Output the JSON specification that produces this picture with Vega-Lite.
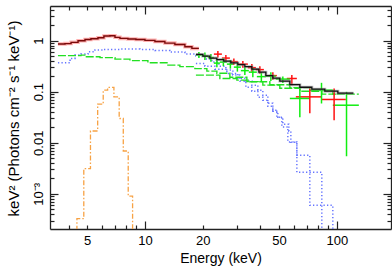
{
  "$schema": "https://vega.github.io/schema/vega-lite/v6.json",
  "width": 341,
  "height": 223,
  "autosize": {"type": "none"},
  "padding": {"left": 50, "top": 6, "right": 1, "bottom": 38},
  "config": {"view": {"stroke": null}, "font": "Liberation Sans", "axis": {"grid": false}},
  "datasets": {
    "lines": [
      {"s": "m", "e": 3.52, "f": 0.854}, {"s": "m", "e": 3.83, "f": 0.873}, {"s": "m", "e": 4.12, "f": 0.922}, {"s": "m", "e": 4.48, "f": 0.991}, {"s": "m", "e": 4.87, "f": 1.046}, {"s": "m", "e": 5.23, "f": 1.085}, {"s": "m", "e": 5.69, "f": 1.135}, {"s": "m", "e": 6.11, "f": 1.225}, {"s": "m", "e": 6.57, "f": 1.242}, {"s": "m", "e": 6.98, "f": 1.155}, {"s": "m", "e": 7.41, "f": 1.104}, {"s": "m", "e": 8.15, "f": 1.07}, {"s": "m", "e": 8.97, "f": 1.046}, {"s": "m", "e": 10.0, "f": 1.009}, {"s": "m", "e": 11.27, "f": 0.956}, {"s": "m", "e": 12.7, "f": 0.893}, {"s": "m", "e": 14.32, "f": 0.835}, {"s": "m", "e": 16.15, "f": 0.756}, {"s": "m", "e": 17.57, "f": 0.703}, {"s": "m", "e": 19.1, "f": 0.703},
      {"s": "k", "e": 18.43, "f": 0.536}, {"s": "k", "e": 20.04, "f": 0.497}, {"s": "k", "e": 21.79, "f": 0.454}, {"s": "k", "e": 23.7, "f": 0.424}, {"s": "k", "e": 25.77, "f": 0.396}, {"s": "k", "e": 28.04, "f": 0.367}, {"s": "k", "e": 30.49, "f": 0.338}, {"s": "k", "e": 33.16, "f": 0.309}, {"s": "k", "e": 36.06, "f": 0.276}, {"s": "k", "e": 39.22, "f": 0.241}, {"s": "k", "e": 42.66, "f": 0.206}, {"s": "k", "e": 46.39, "f": 0.184}, {"s": "k", "e": 50.45, "f": 0.161}, {"s": "k", "e": 56.89, "f": 0.137}, {"s": "k", "e": 64.14, "f": 0.122}, {"s": "k", "e": 74.06, "f": 0.112}, {"s": "k", "e": 86.53, "f": 0.102}, {"s": "k", "e": 101.2, "f": 0.0935}, {"s": "k", "e": 122.0, "f": 0.0935},
      {"s": "fe", "e": 4.0, "f": 0.00001}, {"s": "fe", "e": 4.42, "f": 0.000326}, {"s": "fe", "e": 4.8, "f": 0.00312}, {"s": "fe", "e": 5.2, "f": 0.017}, {"s": "fe", "e": 5.67, "f": 0.0569}, {"s": "fe", "e": 6.06, "f": 0.107}, {"s": "fe", "e": 6.39, "f": 0.121}, {"s": "fe", "e": 6.89, "f": 0.079}, {"s": "fe", "e": 7.34, "f": 0.0298}, {"s": "fe", "e": 7.71, "f": 0.0069}, {"s": "fe", "e": 8.18, "f": 0.000905}, {"s": "fe", "e": 8.62, "f": 0.00001},
      {"s": "b1", "e": 3.52, "f": 0.367}, {"s": "b1", "e": 4.07, "f": 0.448}, {"s": "b1", "e": 4.32, "f": 0.52}, {"s": "b1", "e": 4.64, "f": 0.543}, {"s": "b1", "e": 5.05, "f": 0.603}, {"s": "b1", "e": 5.49, "f": 0.651}, {"s": "b1", "e": 6.04, "f": 0.672}, {"s": "b1", "e": 7.41, "f": 0.681}, {"s": "b1", "e": 9.41, "f": 0.672}, {"s": "b1", "e": 11.27, "f": 0.642}, {"s": "b1", "e": 13.49, "f": 0.595}, {"s": "b1", "e": 16.15, "f": 0.543}, {"s": "b1", "e": 18.43, "f": 0.497}, {"s": "b1", "e": 20.53, "f": 0.434}, {"s": "b1", "e": 22.32, "f": 0.379}, {"s": "b1", "e": 24.28, "f": 0.316}, {"s": "b1", "e": 26.4, "f": 0.264}, {"s": "b1", "e": 28.72, "f": 0.211}, {"s": "b1", "e": 31.23, "f": 0.161}, {"s": "b1", "e": 33.56, "f": 0.122}, {"s": "b1", "e": 36.06, "f": 0.102}, {"s": "b1", "e": 38.76, "f": 0.078}, {"s": "b1", "e": 41.15, "f": 0.0681}, {"s": "b1", "e": 43.69, "f": 0.052}, {"s": "b1", "e": 46.39, "f": 0.0415}, {"s": "b1", "e": 49.26, "f": 0.0316}, {"s": "b1", "e": 52.3, "f": 0.023}, {"s": "b1", "e": 56.2, "f": 0.0168}, {"s": "b1", "e": 57.58, "f": 0.01023}, {"s": "b1", "e": 61.88, "f": 0.00264}, {"s": "b1", "e": 83.48, "f": 0.00001},
      {"s": "b2", "e": 18.43, "f": 0.357}, {"s": "b2", "e": 20.53, "f": 0.316}, {"s": "b2", "e": 23.14, "f": 0.276}, {"s": "b2", "e": 26.72, "f": 0.227}, {"s": "b2", "e": 30.49, "f": 0.184}, {"s": "b2", "e": 33.16, "f": 0.161}, {"s": "b2", "e": 36.06, "f": 0.134}, {"s": "b2", "e": 38.76, "f": 0.107}, {"s": "b2", "e": 41.15, "f": 0.0854}, {"s": "b2", "e": 43.69, "f": 0.0595}, {"s": "b2", "e": 46.39, "f": 0.0434}, {"s": "b2", "e": 48.67, "f": 0.0316}, {"s": "b2", "e": 51.68, "f": 0.0204}, {"s": "b2", "e": 55.53, "f": 0.01036}, {"s": "b2", "e": 61.88, "f": 0.00569}, {"s": "b2", "e": 72.3, "f": 0.000595}, {"s": "b2", "e": 95.27, "f": 0.00001},
      {"s": "g1", "e": 3.52, "f": 0.508}, {"s": "g1", "e": 4.64, "f": 0.52}, {"s": "g1", "e": 4.87, "f": 0.481}, {"s": "g1", "e": 5.83, "f": 0.464}, {"s": "g1", "e": 6.98, "f": 0.434}, {"s": "g1", "e": 8.35, "f": 0.405}, {"s": "g1", "e": 10.36, "f": 0.367}, {"s": "g1", "e": 13.17, "f": 0.331}, {"s": "g1", "e": 15.21, "f": 0.309}, {"s": "g1", "e": 18.2, "f": 0.282}, {"s": "g1", "e": 21.02, "f": 0.252}, {"s": "g1", "e": 23.7, "f": 0.23}, {"s": "g1", "e": 27.7, "f": 0.192}, {"s": "g1", "e": 33.96, "f": 0.157}, {"s": "g1", "e": 41.15, "f": 0.134}, {"s": "g1", "e": 50.45, "f": 0.117}, {"s": "g1", "e": 64.14, "f": 0.102}, {"s": "g1", "e": 83.48, "f": 0.0893}, {"s": "g1", "e": 101.2, "f": 0.0893},
      {"s": "g2", "e": 18.43, "f": 0.211}, {"s": "g2", "e": 24.57, "f": 0.181}, {"s": "g2", "e": 30.13, "f": 0.168}, {"s": "g2", "e": 35.2, "f": 0.156}, {"s": "g2", "e": 44.75, "f": 0.137}, {"s": "g2", "e": 56.89, "f": 0.12}, {"s": "g2", "e": 72.3, "f": 0.105}, {"s": "g2", "e": 95.27, "f": 0.0893}, {"s": "g2", "e": 130.2, "f": 0.0893}
    ],
    "pts": [
      {"i": "r", "e": 23.99, "elo": 22.86, "ehi": 25.17, "f": 0.543, "flo": 0.464, "fhi": 0.622},
      {"i": "r", "e": 26.4, "elo": 25.17, "ehi": 27.7, "f": 0.454, "flo": 0.396, "fhi": 0.52},
      {"i": "r", "e": 29.06, "elo": 27.7, "ehi": 30.49, "f": 0.387, "flo": 0.338, "fhi": 0.444},
      {"i": "r", "e": 32.37, "elo": 30.49, "ehi": 34.37, "f": 0.346, "flo": 0.295, "fhi": 0.396},
      {"i": "r", "e": 36.06, "elo": 34.37, "ehi": 37.84, "f": 0.295, "flo": 0.247, "fhi": 0.346},
      {"i": "r", "e": 39.7, "elo": 37.84, "ehi": 41.65, "f": 0.27, "flo": 0.225, "fhi": 0.316},
      {"i": "r", "e": 46.39, "elo": 44.22, "ehi": 48.67, "f": 0.206, "flo": 0.172, "fhi": 0.241},
      {"i": "r", "e": 58.27, "elo": 54.86, "ehi": 61.88, "f": 0.181, "flo": 0.134, "fhi": 0.211},
      {"i": "r", "e": 72.3, "elo": 61.14, "ehi": 83.48, "f": 0.0791, "flo": 0.0379, "fhi": 0.1155},
      {"i": "r", "e": 96.76, "elo": 83.48, "ehi": 111.4, "f": 0.0703, "flo": 0.0276, "fhi": 0.1155},
      {"i": "g", "e": 19.1, "elo": 18.43, "ehi": 19.8, "f": 0.52, "flo": 0.454, "fhi": 0.595},
      {"i": "g", "e": 20.53, "elo": 19.8, "ehi": 21.28, "f": 0.497, "flo": 0.415, "fhi": 0.582},
      {"i": "g", "e": 22.06, "elo": 21.28, "ehi": 22.86, "f": 0.464, "flo": 0.387, "fhi": 0.543},
      {"i": "g", "e": 23.7, "elo": 22.86, "ehi": 24.57, "f": 0.362, "flo": 0.302, "fhi": 0.424},
      {"i": "g", "e": 25.62, "elo": 24.57, "ehi": 26.72, "f": 0.379, "flo": 0.316, "fhi": 0.454},
      {"i": "g", "e": 27.87, "elo": 26.72, "ehi": 29.06, "f": 0.346, "flo": 0.282, "fhi": 0.415},
      {"i": "g", "e": 30.31, "elo": 29.06, "ehi": 31.61, "f": 0.302, "flo": 0.247, "fhi": 0.362},
      {"i": "g", "e": 33.16, "elo": 31.61, "ehi": 34.78, "f": 0.258, "flo": 0.211, "fhi": 0.309},
      {"i": "g", "e": 36.49, "elo": 34.78, "ehi": 38.29, "f": 0.241, "flo": 0.192, "fhi": 0.289},
      {"i": "g", "e": 40.42, "elo": 38.29, "ehi": 42.66, "f": 0.197, "flo": 0.157, "fhi": 0.241},
      {"i": "g", "e": 45.3, "elo": 42.66, "ehi": 48.09, "f": 0.201, "flo": 0.161, "fhi": 0.241},
      {"i": "g", "e": 52.3, "elo": 48.09, "ehi": 56.89, "f": 0.176, "flo": 0.147, "fhi": 0.197},
      {"i": "g", "e": 64.14, "elo": 56.89, "ehi": 72.3, "f": 0.0736, "flo": 0.0316, "fhi": 0.117},
      {"i": "g", "e": 83.18, "elo": 72.3, "ehi": 95.27, "f": 0.107, "flo": 0.0587, "fhi": 0.149},
      {"i": "g", "e": 112.3, "elo": 95.27, "ehi": 130.2, "f": 0.0543, "flo": 0.00544, "fhi": 0.0991}
    ]
  },
  "resolve": {"axis": {"x": "independent", "y": "independent"}},
  "layer": [
    {
      "data": {"name": "lines"},
      "transform": [{"filter": "datum.s == 'b1'"}],
      "mark": {"type": "line", "interpolate": "step-after", "clip": true, "color": "#4a5cff", "opacity": 0.85, "strokeDash": [1.3, 2.2], "strokeWidth": 1.5},
      "encoding": {
        "x": {"field": "e", "type": "quantitative", "scale": {"type": "log", "domain": [3.2, 191.5], "nice": false},
          "axis": {"orient": "bottom", "values": [4, 5, 6, 7, 8, 9, 10, 20, 30, 40, 50, 60, 70, 80, 90, 100], "labels": false, "title": null, "domain": true, "domainColor": "#222", "domainWidth": 1.3, "tickColor": "#222", "tickWidth": 1.2,
            "tickSize": {"condition": {"test": "datum.value == 10 || datum.value == 100", "value": -8}, "value": -4}}},
        "y": {"field": "f", "type": "quantitative", "scale": {"type": "log", "domain": [0.000205, 4.75], "nice": false},
          "axis": {"orient": "left", "values": [0.0003, 0.0004, 0.0005, 0.0006, 0.0007, 0.0008, 0.0009, 0.001, 0.002, 0.003, 0.004, 0.005, 0.006, 0.007, 0.008, 0.009, 0.01, 0.02, 0.03, 0.04, 0.05, 0.06, 0.07, 0.08, 0.09, 0.1, 0.2, 0.3, 0.4, 0.5, 0.6, 0.7, 0.8, 0.9, 1, 2, 3, 4], "labels": false, "title": null, "domain": true, "domainColor": "#222", "domainWidth": 1.3, "tickColor": "#222", "tickWidth": 1.2,
            "tickSize": {"condition": {"test": "datum.value == 1 || datum.value == 0.1 || datum.value == 0.01 || datum.value == 0.001", "value": -8}, "value": -4}}}
      }
    },
    {
      "data": {"name": "lines"},
      "transform": [{"filter": "datum.s == 'b2'"}],
      "mark": {"type": "line", "interpolate": "step-after", "clip": true, "color": "#4a5cff", "opacity": 0.85, "strokeDash": [1.3, 2.2], "strokeWidth": 1.5},
      "encoding": {
        "x": {"field": "e", "type": "quantitative", "scale": {"type": "log", "domain": [3.2, 191.5], "nice": false},
          "axis": {"orient": "bottom", "values": [5, 10, 20, 50, 100], "ticks": false, "tickSize": 0, "domain": false, "labelPadding": 5, "labelFontSize": 13, "labelFont": "Liberation Sans", "labelColor": "#000", "labelBaseline": "top", "labelExpr": "datum.value + ''",
            "title": "Energy (keV)", "titleFont": "Liberation Sans", "titleFontSize": 14, "titleFontWeight": "normal", "titleColor": "#000", "titleY": 33, "titleBaseline": "alphabetic"}},
        "y": {"field": "f", "type": "quantitative", "scale": {"type": "log", "domain": [0.000205, 4.75], "nice": false},
          "axis": {"orient": "left", "values": [0.001, 0.01, 0.1, 1], "ticks": false, "tickSize": 0, "domain": false, "labelPadding": 8, "labelFontSize": 13, "labelFont": "Liberation Sans", "labelColor": "#000", "labelAngle": -90, "labelAlign": "center", "labelBaseline": "alphabetic",
            "labelExpr": "datum.value == 0.001 ? '10⁻³' : datum.value == 0.01 ? '0.01' : datum.value == 0.1 ? '0.1' : '1'",
            "title": "keV² (Photons cm⁻² s⁻¹ keV⁻¹)", "titleFont": "Liberation Sans", "titleFontSize": 15, "titleFontWeight": "normal", "titleColor": "#000", "titleX": -32, "titleY": 112, "titleAngle": -90, "titleAlign": "center", "titleBaseline": "alphabetic"}}
      }
    },
    {
      "data": {"name": "lines"},
      "transform": [{"filter": "datum.s == 'g1'"}],
      "mark": {"type": "line", "interpolate": "step-after", "clip": true, "color": "#22e022", "strokeDash": [8, 2], "strokeWidth": 1.4},
      "encoding": {
        "x": {"field": "e", "type": "quantitative", "scale": {"type": "log", "domain": [3.2, 191.5], "nice": false},
          "axis": {"orient": "top", "values": [4, 5, 6, 7, 8, 9, 10, 20, 30, 40, 50, 60, 70, 80, 90, 100], "labels": false, "title": null, "domain": true, "domainColor": "#222", "domainWidth": 1.3, "tickColor": "#222", "tickWidth": 1.2,
            "tickSize": {"condition": {"test": "datum.value == 10 || datum.value == 100", "value": -8}, "value": -4}}},
        "y": {"field": "f", "type": "quantitative", "scale": {"type": "log", "domain": [0.000205, 4.75], "nice": false},
          "axis": {"orient": "right", "values": [0.0003, 0.0004, 0.0005, 0.0006, 0.0007, 0.0008, 0.0009, 0.001, 0.002, 0.003, 0.004, 0.005, 0.006, 0.007, 0.008, 0.009, 0.01, 0.02, 0.03, 0.04, 0.05, 0.06, 0.07, 0.08, 0.09, 0.1, 0.2, 0.3, 0.4, 0.5, 0.6, 0.7, 0.8, 0.9, 1, 2, 3, 4], "labels": false, "title": null, "domain": true, "domainColor": "#222", "domainWidth": 1.3, "tickColor": "#222", "tickWidth": 1.2,
            "tickSize": {"condition": {"test": "datum.value == 1 || datum.value == 0.1 || datum.value == 0.01 || datum.value == 0.001", "value": -8}, "value": -4}}}
      }
    },
    {
      "data": {"name": "lines"},
      "transform": [{"filter": "datum.s == 'g2'"}],
      "mark": {"type": "line", "interpolate": "step-after", "clip": true, "color": "#22e022", "strokeDash": [8, 2], "strokeWidth": 1.4},
      "encoding": {
        "x": {"field": "e", "type": "quantitative", "scale": {"type": "log", "domain": [3.2, 191.5], "nice": false}, "axis": null},
        "y": {"field": "f", "type": "quantitative", "scale": {"type": "log", "domain": [0.000205, 4.75], "nice": false}, "axis": null}
      }
    },
    {
      "data": {"name": "lines"},
      "transform": [{"filter": "datum.s == 'fe'"}],
      "mark": {"type": "line", "interpolate": "step-after", "clip": true, "color": "#f7a244", "strokeDash": [5, 2, 1.5, 2], "strokeWidth": 1.3},
      "encoding": {
        "x": {"field": "e", "type": "quantitative", "scale": {"type": "log", "domain": [3.2, 191.5], "nice": false}, "axis": null},
        "y": {"field": "f", "type": "quantitative", "scale": {"type": "log", "domain": [0.000205, 4.75], "nice": false}, "axis": null}
      }
    },
    {
      "data": {"name": "pts"},
      "mark": {"type": "rule", "clip": true, "strokeWidth": 1.5},
      "encoding": {
        "x": {"field": "elo", "type": "quantitative", "scale": {"type": "log", "domain": [3.2, 191.5], "nice": false}, "axis": null},
        "x2": {"field": "ehi"},
        "y": {"field": "f", "type": "quantitative", "scale": {"type": "log", "domain": [0.000205, 4.75], "nice": false}, "axis": null},
        "color": {"field": "i", "type": "nominal", "scale": {"domain": ["r", "g"], "range": ["#ff1010", "#10ee10"]}, "legend": null}
      }
    },
    {
      "data": {"name": "pts"},
      "mark": {"type": "rule", "clip": true, "strokeWidth": 1.5},
      "encoding": {
        "x": {"field": "e", "type": "quantitative", "scale": {"type": "log", "domain": [3.2, 191.5], "nice": false}, "axis": null},
        "y": {"field": "flo", "type": "quantitative", "scale": {"type": "log", "domain": [0.000205, 4.75], "nice": false}, "axis": null},
        "y2": {"field": "fhi"},
        "color": {"field": "i", "type": "nominal", "scale": {"domain": ["r", "g"], "range": ["#ff1010", "#10ee10"]}, "legend": null}
      }
    },
    {
      "data": {"name": "lines"},
      "transform": [{"filter": "datum.s == 'm'"}],
      "mark": {"type": "line", "interpolate": "step-after", "clip": true, "color": "#ff5050", "opacity": 0.45, "strokeWidth": 3.5},
      "encoding": {
        "x": {"field": "e", "type": "quantitative", "scale": {"type": "log", "domain": [3.2, 191.5], "nice": false}, "axis": null},
        "y": {"field": "f", "type": "quantitative", "scale": {"type": "log", "domain": [0.000205, 4.75], "nice": false}, "axis": null}
      }
    },
    {
      "data": {"name": "lines"},
      "transform": [{"filter": "datum.s == 'm'"}],
      "mark": {"type": "line", "interpolate": "step-after", "clip": true, "color": "#7a0a0a", "strokeWidth": 1.4},
      "encoding": {
        "x": {"field": "e", "type": "quantitative", "scale": {"type": "log", "domain": [3.2, 191.5], "nice": false}, "axis": null},
        "y": {"field": "f", "type": "quantitative", "scale": {"type": "log", "domain": [0.000205, 4.75], "nice": false}, "axis": null}
      }
    },
    {
      "data": {"name": "lines"},
      "transform": [{"filter": "datum.s == 'k'"}],
      "mark": {"type": "line", "interpolate": "step-after", "clip": true, "color": "#888888", "opacity": 0.5, "strokeWidth": 3},
      "encoding": {
        "x": {"field": "e", "type": "quantitative", "scale": {"type": "log", "domain": [3.2, 191.5], "nice": false}, "axis": null},
        "y": {"field": "f", "type": "quantitative", "scale": {"type": "log", "domain": [0.000205, 4.75], "nice": false}, "axis": null}
      }
    },
    {
      "data": {"name": "lines"},
      "transform": [{"filter": "datum.s == 'k'"}],
      "mark": {"type": "line", "interpolate": "step-after", "clip": true, "color": "#111111", "strokeWidth": 1.3},
      "encoding": {
        "x": {"field": "e", "type": "quantitative", "scale": {"type": "log", "domain": [3.2, 191.5], "nice": false}, "axis": null},
        "y": {"field": "f", "type": "quantitative", "scale": {"type": "log", "domain": [0.000205, 4.75], "nice": false}, "axis": null}
      }
    }
  ]
}
